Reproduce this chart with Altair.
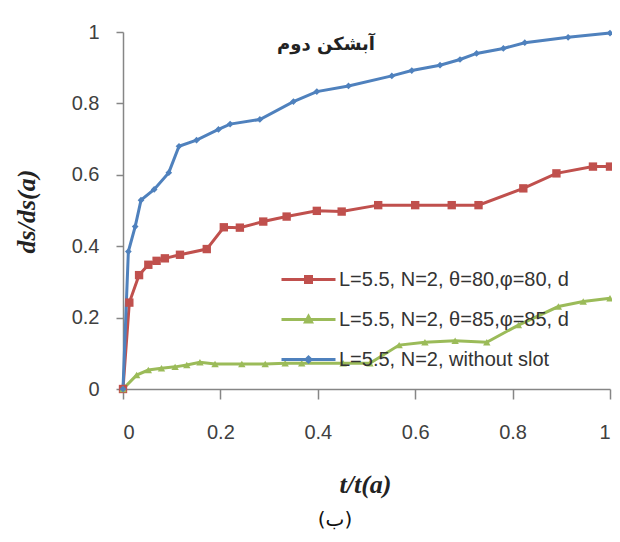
import altair as alt
import pandas as pd

# ---- data ----
t_ticks = [0, 0.2, 0.4, 0.6, 0.8, 1]
v_ticks = [0, 0.2, 0.4, 0.6, 0.8, 1]

series_names = [
    "L=5.5, N=2, θ=80,φ=80,  d",
    "L=5.5, N=2, θ=85,φ=85, d",
    "L=5.5, N=2, without slot",
]
series_colors = ["#C0504D", "#9BBB59", "#4F81BD"]

red_t = [0, 0.013, 0.033, 0.052, 0.069, 0.086, 0.117, 0.172, 0.207, 0.240, 0.288,
         0.336, 0.398, 0.449, 0.524, 0.600, 0.675, 0.730, 0.822, 0.890, 0.965, 1.0]
red_v = [0, 0.242, 0.319, 0.348, 0.359, 0.366, 0.376, 0.392, 0.453, 0.452, 0.469,
         0.483, 0.499, 0.497, 0.515, 0.515, 0.515, 0.515, 0.562, 0.604, 0.623, 0.623]

green_t = [0, 0.028, 0.052, 0.079, 0.107, 0.131, 0.158, 0.189, 0.244, 0.292, 0.333,
           0.367, 0.452, 0.507, 0.567, 0.620, 0.682, 0.747, 0.812, 0.894, 0.945, 1.0]
green_v = [0, 0.039, 0.053, 0.058, 0.062, 0.067, 0.075, 0.070, 0.070, 0.070, 0.072,
           0.072, 0.072, 0.072, 0.123, 0.131, 0.135, 0.131, 0.179, 0.231, 0.245, 0.254]

blue_t = [0, 0.011, 0.025, 0.037, 0.064, 0.094, 0.115, 0.151, 0.196, 0.220, 0.281,
          0.350, 0.398, 0.463, 0.552, 0.593, 0.651, 0.692, 0.726, 0.781, 0.825, 0.914, 1.0]
blue_v = [0, 0.385, 0.455, 0.529, 0.559, 0.606, 0.680, 0.697, 0.727, 0.742, 0.755,
          0.805, 0.833, 0.849, 0.877, 0.892, 0.907, 0.923, 0.940, 0.954, 0.970, 0.985, 0.997]

chart_note = ["آبشکن دوم"]
panel_label = ["(ب)"]
x_title = "t/t(a)"
y_title = "ds/ds(a)"

# ---- build table ----
rows = []
for name, ts, vs in zip(series_names, [red_t, green_t, blue_t], [red_v, green_v, blue_v]):
    for a, b in zip(ts, vs):
        rows.append({"series": name, "t": a, "v": b})
df = pd.DataFrame(rows)

color_scale = alt.Scale(domain=series_names, range=series_colors)

legend_paths = [
    "M-1,0H4.4M1.4,-0.3H2.0V0.3H1.4Z",
    "M-1,0H4.4M1.4,0.25L1.7,-0.3L2.0,0.25Z",
    "M-1,0H4.4M1.45,0L1.7,-0.25L1.95,0L1.7,0.25Z",
]


def make_legend():
    return alt.Legend(
        title=None, orient="none", legendX=157, legendY=236, padding=0,
        symbolSize=400, symbolStrokeWidth=3, labelFont="Liberation Sans",
        labelFontSize=20, labelColor="#333333", labelOffset=36, rowPadding=18,
        labelLimit=400,
    )


x_enc = alt.X(
    "t:Q",
    scale=alt.Scale(domain=[0, 1], nice=False),
    axis=alt.Axis(values=t_ticks, format="~g", title=x_title, tickSize=10,
                  labelPadding=23, titleX=242, titleY=95, titleAlign="center",
                  titleBaseline="middle", titleAngle=0),
)
y_enc = alt.Y(
    "v:Q",
    scale=alt.Scale(domain=[0, 1], nice=False),
    axis=alt.Axis(values=v_ticks, format="~g", title=y_title, tickSize=7,
                  labelPadding=17, titleX=-97, titleY=179, titleAlign="center",
                  titleBaseline="middle", titleAngle=270),
)

lines = alt.Chart(df).mark_line(strokeWidth=3, clip=False).encode(
    x=x_enc, y=y_enc,
    color=alt.Color("series:N", scale=color_scale, legend=make_legend()),
)

marker_shapes = ["square", "triangle-up", "diamond"]
marker_sizes = [70, 55, 45]
point_layers = []
for name, shp, sz in zip(series_names, marker_shapes, marker_sizes):
    point_layers.append(
        alt.Chart(df).transform_filter(alt.datum.series == name)
        .mark_point(filled=True, shape=shp, size=sz, opacity=1, clip=False)
        .encode(x="t:Q", y="v:Q",
                color=alt.Color("series:N", scale=color_scale, legend=None))
    )

# legend-only layer (drawn off-canvas): supplies the line+marker legend symbols
legend_df = pd.DataFrame({"series": series_names})
legend_layer = (
    alt.Chart(legend_df)
    .mark_point(filled=True, opacity=1, strokeWidth=3)
    .encode(
        x=alt.value(-600), y=alt.value(-600),
        shape=alt.Shape("series:N", scale=alt.Scale(domain=series_names, range=legend_paths),
                        legend=make_legend()),
    )
)

note = alt.Chart(pd.DataFrame({"label": chart_note})).mark_text(
    font="DejaVu Sans", fontSize=18, fontWeight="bold", color="#222222"
).encode(text="label:N", x=alt.value(203), y=alt.value(13))

panel = alt.Chart(pd.DataFrame({"label": panel_label})).mark_text(
    font="DejaVu Sans", fontSize=20, color="#111111"
).encode(text="label:N", x=alt.value(212), y=alt.value(488))

chart = alt.layer(lines, *point_layers, legend_layer, note, panel).properties(
    width=487, height=357,
    autosize=alt.AutoSizeParams(type="none"),
    padding={"left": 115, "top": 24, "right": 2, "bottom": 145},
).configure_view(stroke=None).configure_axis(
    domainColor="#868686", domainWidth=1.5, tickColor="#868686", tickWidth=1.5,
    grid=False, labelFont="Liberation Sans", labelFontSize=20, labelColor="#404040",
    titleFont="Liberation Serif", titleFontSize=26, titleFontStyle="italic",
    titleFontWeight="bold", titleColor="#222222",
)

chart.save("out.html", embed_options={"renderer": "svg", "actions": False})
